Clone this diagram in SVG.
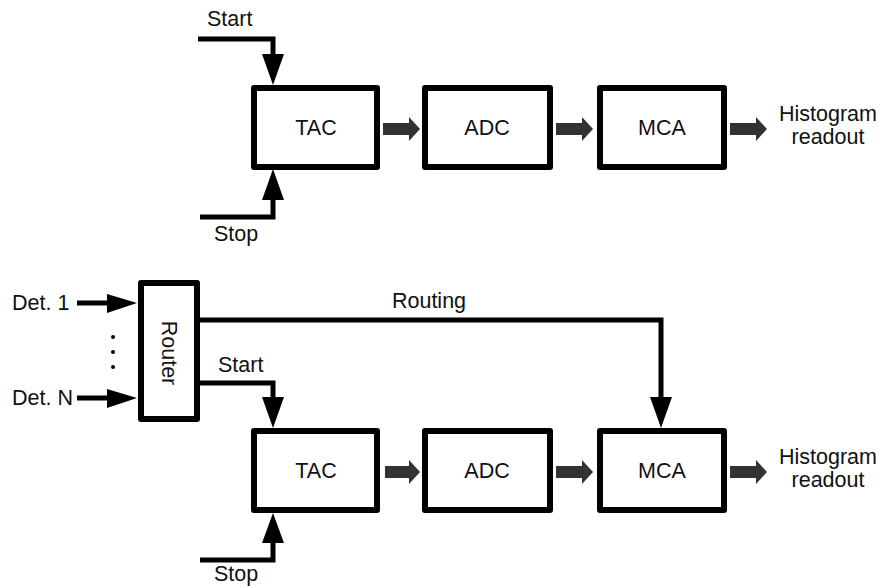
<svg xmlns="http://www.w3.org/2000/svg" width="882" height="587" viewBox="0 0 882 587">
<style>
  .box { fill: #fff; stroke: #000; stroke-width: 6; stroke-linejoin: round; }
  .lbl { font-family: "Liberation Sans", Arial, sans-serif; font-size: 21.5px; fill: #111; }
  .mid { text-anchor: middle; }
  .wire { fill: none; stroke: #000; stroke-width: 5; stroke-linejoin: miter; }
  .head { fill: #000; }
  .block { fill: #333; }
</style>
<rect width="882" height="587" fill="#fff"/>

<g id="connectors">
  <!-- top row -->
  <path class="wire" d="M198 39 H273 V56"/>
  <polygon class="head" points="262,54 284,54 273,85"/>
  <path class="wire" d="M200 217 H273 V198"/>
  <polygon class="head" points="262,200 284,200 273,169"/>
  <polygon class="block" points="383,123 409,123 409,117 420,129 409,141 409,135 383,135"/>
  <polygon class="block" points="556,123 582,123 582,117 593,129 582,141 582,135 556,135"/>
  <polygon class="block" points="730,123 756,123 756,117 767,129 756,141 756,135 730,135"/>

  <!-- bottom row -->
  <path class="wire" d="M77 303 H110"/>
  <polygon class="head" points="107,294 107,313 137,303"/>
  <path class="wire" d="M77 398 H110"/>
  <polygon class="head" points="107,389 107,408 137,398"/>
  <path class="wire" d="M200 320 H661 V399"/>
  <polygon class="head" points="650,397 672,397 661,428"/>
  <path class="wire" d="M200 383 H273 V399"/>
  <polygon class="head" points="262,397 284,397 273,428"/>
  <path class="wire" d="M200 560 H273 V541"/>
  <polygon class="head" points="262,543 284,543 273,513"/>
  <polygon class="block" points="385,466 409,466 409,460 420,472 409,484 409,478 385,478"/>
  <polygon class="block" points="556,466 582,466 582,460 593,472 582,484 582,478 556,478"/>
  <polygon class="block" points="730,466 756,466 756,460 767,472 756,484 756,478 730,478"/>
  <circle cx="113" cy="337" r="2" fill="#000"/>
  <circle cx="113" cy="352" r="2" fill="#000"/>
  <circle cx="113" cy="367" r="2" fill="#000"/>
</g>

<g id="labels">
  <text class="lbl" x="207" y="26">Start</text>
  <text class="lbl" x="214" y="241">Stop</text>
  <text class="lbl mid" x="828" y="121">Histogram</text>
  <text class="lbl mid" x="828" y="144">readout</text>
  <text class="lbl" x="12" y="310">Det. 1</text>
  <text class="lbl" x="12" y="405">Det. N</text>
  <text class="lbl mid" x="429" y="308">Routing</text>
  <text class="lbl" x="218" y="372">Start</text>
  <text class="lbl" x="214" y="581">Stop</text>
  <text class="lbl mid" x="828" y="464">Histogram</text>
  <text class="lbl mid" x="828" y="487">readout</text>
</g>

<g id="tac1">
  <rect class="box" x="254" y="88" width="123" height="79"/>
  <text class="lbl mid" x="316" y="135">TAC</text>
</g>
<g id="adc1">
  <rect class="box" x="425" y="88" width="125" height="79"/>
  <text class="lbl mid" x="487" y="135">ADC</text>
</g>
<g id="mca1">
  <rect class="box" x="600" y="88" width="124" height="79"/>
  <text class="lbl mid" x="662" y="135">MCA</text>
</g>

<g id="router">
  <rect class="box" x="141" y="283" width="56" height="136"/>
  <text class="lbl mid" transform="translate(162,353) rotate(90)" x="0" y="0">Router</text>
</g>
<g id="tac2">
  <rect class="box" x="254" y="431" width="123" height="79"/>
  <text class="lbl mid" x="316" y="478">TAC</text>
</g>
<g id="adc2">
  <rect class="box" x="425" y="431" width="125" height="79"/>
  <text class="lbl mid" x="487" y="478">ADC</text>
</g>
<g id="mca2">
  <rect class="box" x="600" y="431" width="124" height="79"/>
  <text class="lbl mid" x="662" y="478">MCA</text>
</g>
</svg>
